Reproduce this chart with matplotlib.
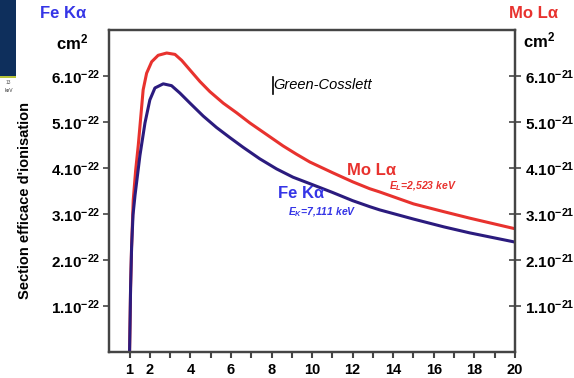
import matplotlib.pyplot as plt
from matplotlib.patches import Rectangle

plt.rcParams['font.family'] = ['Liberation Sans', 'DejaVu Sans']
plt.rcParams['mathtext.fontset'] = 'custom'
plt.rcParams['mathtext.rm'] = 'Liberation Sans:bold'
plt.rcParams['mathtext.it'] = 'Liberation Sans:italic:bold'
plt.rcParams['mathtext.bf'] = 'Liberation Sans:bold'

# surtension U = E0/Ec et section efficace (unites: 1e-21 cm2 pour Mo, 1e-22 cm2 pour Fe)
u_mo = [1.0, 1.03, 1.05, 1.1, 1.18, 1.3, 1.43, 1.55, 1.67, 1.84, 2.09, 2.41, 2.83, 3.24, 3.57,
        3.98, 4.47, 4.96, 5.62, 6.28, 6.93, 7.75, 8.57, 9.23, 9.89, 11.0, 12.0, 12.84, 13.33,
        15.0, 16.5, 17.77, 20.0]
sigma_mo = [0.0, 0.8, 1.4, 2.3, 3.3, 3.95, 4.5, 5.1, 5.7, 6.06, 6.31, 6.45, 6.5, 6.47, 6.34,
            6.13, 5.88, 5.66, 5.41, 5.2, 4.98, 4.73, 4.48, 4.3, 4.13, 3.9, 3.7, 3.55, 3.48,
            3.22, 3.05, 2.91, 2.68]
u_fe = [1.0, 1.03, 1.05, 1.1, 1.17, 1.27, 1.51, 1.76, 2.0, 2.25, 2.66, 3.07, 3.48, 3.98, 4.63,
        5.29, 5.95, 6.6, 7.42, 8.25, 9.06, 9.89, 11.0, 12.0, 12.84, 13.33, 15.0, 16.5, 17.77,
        20.0]
sigma_fe = [0.0, 0.8, 1.4, 2.27, 2.98, 3.41, 4.27, 4.98, 5.48, 5.74, 5.83, 5.79, 5.63, 5.41,
            5.13, 4.88, 4.66, 4.45, 4.2, 3.98, 3.8, 3.66, 3.47, 3.29, 3.16, 3.09, 2.89, 2.72,
            2.59, 2.39]

xticks = list(range(1, 21))
xlabels = ['1', '2', '', '4', '', '6', '', '8', '', '10', '', '12', '', '14', '', '16', '', '18', '', '20']
yticks = [1, 2, 3, 4, 5, 6]
left_labels = [r'$\mathbf{%d.10^{-22}}$' % v for v in yticks]
right_labels = [r'$\mathbf{%d.10^{-21}}$' % v for v in yticks]

red = '#e8322e'
indigo = '#2b1b7e'
blue_txt = '#3535e6'
spine_c = '#444444'

fig = plt.figure(figsize=(5.74, 3.78), dpi=100)
ax = fig.add_axes([0.1904, 0.0688, 0.7066, 0.8518])

ax.plot(u_mo, sigma_mo, color=red, lw=2.2, solid_joinstyle='round')
ax.plot(u_fe, sigma_fe, color=indigo, lw=2.2, solid_joinstyle='round')

ax.set_xlim(0, 20)
ax.set_ylim(0, 7)
ax.set_xticks(xticks)
ax.set_xticklabels(xlabels, fontweight='bold', fontsize=10.5)
ax.set_yticks(yticks)
ax.set_yticklabels(left_labels, fontsize=11)
ax.tick_params(axis='x', direction='out', length=4, width=1.5, color=spine_c, pad=4)
ax.tick_params(axis='y', direction='out', length=4, width=1.2, color=spine_c, pad=2)
for s in ax.spines.values():
    s.set_color(spine_c)
    s.set_linewidth(1.6)

ax2 = ax.twinx()
ax2.set_ylim(0, 7)
ax2.set_yticks(yticks)
ax2.set_yticklabels(right_labels, fontsize=11)
ax2.tick_params(axis='y', direction='inout', length=8, width=1.2, color=spine_c, pad=3)
for s in ax2.spines.values():
    s.set_color(spine_c)
    s.set_linewidth(1.6)

ax.set_ylabel("Section efficace d'ionisation", fontweight='bold', fontsize=10.5, labelpad=6)
ax.yaxis.set_label_coords(-0.19, 0.47)

# annotations dans le graphe
ax.text(8.1, 5.8, 'Green-Cosslett', fontstyle='italic', fontsize=10.5, va='center')
ax.plot([8.05, 8.05], [5.6, 5.98], color='black', lw=1.2)
ax.text(11.7, 3.95, 'Mo Lα', color=red, fontweight='bold', fontsize=12, va='center')
ax.text(13.8, 3.6, r'$E_{L}$=2,523 keV', color=red, fontstyle='italic', fontweight='bold',
        fontsize=7.5, va='center')
ax.text(8.3, 3.45, 'Fe Kα', color=blue_txt, fontweight='bold', fontsize=12, va='center')
ax.text(8.8, 3.05, r'$E_{K}$=7,111 keV', color=blue_txt, fontstyle='italic', fontweight='bold',
        fontsize=7.5, va='center')

# titres des axes
fig.text(40 / 574, 1 - 13 / 378, 'Fe Kα', color=blue_txt, fontweight='bold', fontsize=12,
         va='center')
fig.text(56 / 574, 1 - 42 / 378, r'cm$^{2}$', fontweight='bold', fontsize=12, va='center')
fig.text(509 / 574, 1 - 13 / 378, 'Mo Lα', color=red, fontweight='bold', fontsize=12,
         va='center')
fig.text(523 / 574, 1 - 40 / 378, r'cm$^{2}$', fontweight='bold', fontsize=12, va='center')

# morceau de diapositive a gauche
fig.patches.append(Rectangle((0, 1 - 76 / 378), 16 / 574, 76 / 378, transform=fig.transFigure,
                             facecolor='#0e2f5c', edgecolor='none'))
fig.patches.append(Rectangle((0, 1 - 78 / 378), 16 / 574, 2 / 378, transform=fig.transFigure,
                             facecolor='#b7c43a', edgecolor='none'))
fig.text(6 / 574, 1 - 83 / 378, '13', fontsize=3.5, color='#555555', va='center')
fig.text(5 / 574, 1 - 90 / 378, 'keV', fontsize=3.5, color='#333333', va='center')

fig.savefig('out.png', dpi=100)
